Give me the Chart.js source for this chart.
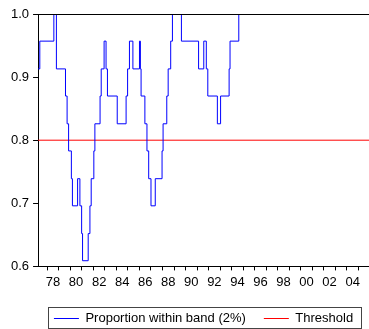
<!DOCTYPE html>
<html lang="en">
<head>
    <meta charset="UTF-8">
    <title>Proportion within band</title>
    <style>
        body {
            margin: 0;
            background-color: #fff;
        }
        #bandChart {
            display: block;
        }
    </style>
</head>
<body>
    <canvas id="bandChart" width="369" height="329"></canvas>

    <script src="https://cdn.jsdelivr.net/npm/chart.js"></script>
    <script>
        // rolling share of observations inside the 2% band (decimal years, value)
        const bandDates = [
            1977.20, 1977.35, 1978.57, 1978.79, 1979.58, 1979.72, 1979.85, 1980.09, 1980.18,
            1980.63, 1980.83, 1980.98, 1981.06, 1981.55, 1981.70, 1981.81, 1982.04, 1982.13,
            1982.58, 1982.68, 1982.93, 1983.10, 1983.22, 1984.07, 1984.84, 1984.97, 1985.13,
            1985.43, 1986.00, 1986.08, 1986.14, 1986.47, 1986.65, 1986.80, 1987.00, 1987.37,
            1987.96, 1988.05, 1988.37, 1988.49, 1988.71, 1988.86, 1989.64, 1991.13, 1991.58,
            1991.80, 1991.93, 1992.76, 1993.04, 1993.78, 1993.86, 1994.62, 2005.92
        ];
        const bandValues = [
            0.913, 0.957, 1.000, 0.913, 0.870, 0.826, 0.783, 0.739, 0.696,
            0.739, 0.696, 0.652, 0.609, 0.652, 0.696, 0.739, 0.783, 0.826,
            0.870, 0.913, 0.957, 0.913, 0.870, 0.826, 0.870, 0.913, 0.957,
            0.913, 0.957, 0.913, 0.870, 0.826, 0.783, 0.739, 0.696, 0.739,
            0.783, 0.826, 0.870, 0.913, 0.957, 1.000, 0.957, 0.913, 0.957,
            0.913, 0.870, 0.826, 0.870, 0.913, 0.957, 1.000, 1.000
        ];
        const threshold = 0.8;

        // axis ticks
        const yearLabels = ['78', '80', '82', '84', '86', '88', '90', '92', '94', '96', '98', '00', '02', '04'];
        const labelYears = [1978, 1980, 1982, 1984, 1986, 1988, 1990, 1992, 1994, 1996, 1998, 2000, 2002, 2004];
        const yTickValues = [0.6, 0.7, 0.8, 0.9, 1.0];

        const xMin = 1977.2;
        const xMax = 2005.92;

        Chart.defaults.font.family = '"Liberation Sans", Arial, sans-serif';
        Chart.defaults.font.size = 13;
        Chart.defaults.color = '#000';

        // black line along the top of the plot, drawn over the series
        const topFrame = {
            id: 'topFrame',
            afterDatasetsDraw(chart) {
                const { ctx, chartArea } = chart;
                const y = Math.round(chartArea.top) + 0.5;
                ctx.save();
                ctx.strokeStyle = '#000';
                ctx.lineWidth = 1;
                ctx.beginPath();
                ctx.moveTo(chartArea.left, y);
                ctx.lineTo(chartArea.right, y);
                ctx.stroke();
                ctx.restore();
            }
        };

        // centre the legend under the plot area instead of the whole canvas
        const legendShift = {
            id: 'legendShift',
            afterLayout(chart) {
                const legend = chart.legend;
                if (!legend) return;
                const shift = (chart.chartArea.left + chart.chartArea.right) / 2 - (legend.left + legend.right) / 2;
                legend.left += shift;
                legend.right += shift;
            }
        };

        // frame around the legend items
        const legendFrame = {
            id: 'legendFrame',
            afterDraw(chart) {
                const boxes = chart.legend && chart.legend.legendHitBoxes;
                if (!boxes || !boxes.length) return;
                const first = boxes[0];
                const last = boxes[boxes.length - 1];
                const left = Math.round(first.left - 6) + 0.5;
                const right = Math.round(last.left + last.width + 8) + 0.5;
                const top = Math.round(first.top - 5) + 0.5;
                const bottom = Math.round(first.top + first.height + 3) + 0.5;
                const ctx = chart.ctx;
                ctx.save();
                ctx.strokeStyle = '#444';
                ctx.lineWidth = 1;
                ctx.strokeRect(left, top, right - left, bottom - top);
                ctx.restore();
            }
        };

        const bandPoints = bandDates.map((d, i) => ({ x: d, y: bandValues[i] }));

        new Chart(document.getElementById('bandChart'), {
            type: 'line',
            data: {
                datasets: [{
                    label: 'Proportion within band (2%)',
                    data: bandPoints,
                    borderColor: '#0000ff',
                    backgroundColor: '#0000ff',
                    borderWidth: 1,
                    pointRadius: 0,
                    stepped: 'before',
                    fill: false
                }, {
                    label: 'Threshold',
                    data: [{ x: xMin, y: threshold }, { x: xMax, y: threshold }],
                    borderColor: '#ff0000',
                    backgroundColor: '#ff0000',
                    borderWidth: 1,
                    pointRadius: 0,
                    fill: false
                }]
            },
            options: {
                responsive: false,
                animation: false,
                devicePixelRatio: 1,
                layout: {
                    padding: { left: 7, top: 14, right: 0, bottom: -6 }
                },
                plugins: {
                    tooltip: { enabled: false },
                    legend: {
                        position: 'bottom',
                        labels: {
                            usePointStyle: true,
                            pointStyle: 'line',
                            pointStyleWidth: 25,
                            padding: 18,
                            color: '#000'
                        }
                    }
                },
                scales: {
                    x: {
                        type: 'linear',
                        min: xMin,
                        max: xMax,
                        afterBuildTicks: (scale) => {
                            const ticks = [];
                            for (let y = 1978; y <= 2005; y++) {
                                ticks.push({ value: y });
                                if (y + 0.5 < xMax) ticks.push({ value: y + 0.5 });
                            }
                            scale.ticks = ticks;
                        },
                        ticks: {
                            autoSkip: false,
                            maxRotation: 0,
                            padding: 4,
                            callback: (value) => {
                                const i = labelYears.indexOf(value - 0.5);
                                return i >= 0 ? yearLabels[i] : '';
                            }
                        },
                        grid: {
                            drawOnChartArea: false,
                            tickLength: 4,
                            tickColor: (ctx) => (ctx.tick && Number.isInteger(ctx.tick.value)) ? '#000' : 'rgba(0,0,0,0)'
                        },
                        border: { color: '#000', width: 1 }
                    },
                    y: {
                        min: 0.6,
                        max: 1.0,
                        afterBuildTicks: (scale) => {
                            scale.ticks = yTickValues.map(v => ({ value: v }));
                        },
                        ticks: {
                            padding: 4,
                            callback: (value) => value.toFixed(1)
                        },
                        grid: {
                            drawOnChartArea: false,
                            tickLength: 5,
                            tickColor: '#000'
                        },
                        border: { color: '#000', width: 1 }
                    }
                }
            },
            plugins: [topFrame, legendShift, legendFrame]
        });
    </script>
</body>
</html>
